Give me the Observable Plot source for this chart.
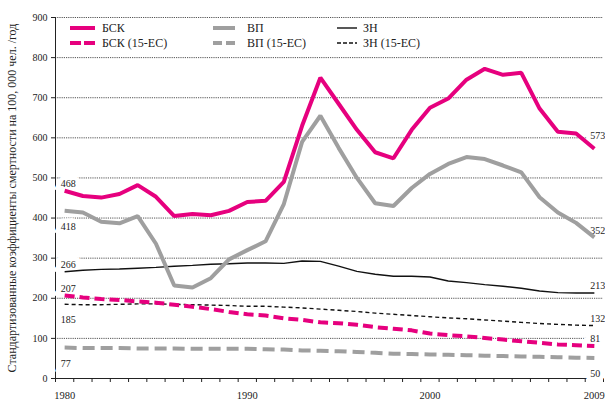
<!DOCTYPE html>
<html><head><meta charset="utf-8">
<script src="https://cdn.jsdelivr.net/npm/d3@7"></script>
<script src="https://cdn.jsdelivr.net/npm/@observablehq/plot@0.6"></script>
<style>
body{margin:0;background:#fff;}
#wrap{position:relative;width:605px;height:403px;font-family:"Liberation Serif","Times New Roman","DejaVu Serif",serif;}
.leg{position:absolute;display:flex;align-items:center;font-size:12px;color:#222;white-space:nowrap;line-height:12px;}
.leg svg{display:block;}
</style></head><body><div id="wrap"></div>
<script>
const years = [1980,1981,1982,1983,1984,1985,1986,1987,1988,1989,1990,1991,1992,1993,1994,1995,1996,1997,1998,1999,2000,2001,2002,2003,2004,2005,2006,2007,2008,2009];
const bsk   = [468,455,451,460,482,453,405,410,407,418,440,443,490,630,750,685,620,564,549,620,675,698,745,772,757,762,673,615,611,573];
const vp    = [418,414,391,387,405,336,232,227,250,297,320,342,435,590,655,575,500,437,430,475,510,535,552,547,531,514,452,414,388,352];
const zn    = [266,270,272,273,275,277,280,282,285,286,288,288,287,293,292,280,267,260,255,255,253,243,239,234,230,225,218,214,213,213];
const bsk15 = [207,202,198,196,192,189,184,179,173,166,160,157,150,146,140,138,134,128,124,120,112,108,105,101,97,93,89,85,83,81];
const vp15  = [77,76,76,76,75,75,75,74,74,74,74,73,72,70,69,68,66,64,62,61,60,59,58,57,56,55,54,53,52,51];
const zn15  = [185,184,184,185,186,186,185,184,183,182,180,180,178,176,173,170,167,163,160,157,154,151,149,146,143,140,137,135,133,132];

const seriesNames = ["БСК","ВП","ЗН","БСК (15-ЕС)","ВП (15-ЕС)","ЗН (15-ЕС)"];
const seriesValues = [bsk, vp, zn, bsk15, vp15, zn15];
const yTicks = [0,100,200,300,400,500,600,700,800,900];
const xLabelYears = [1980,1990,2000,2009];
const yTitle = "Стандартизованные коэффициенты смертности на 100, 000 чел. /год";

// start / end labels
const labelYears = [1980,1980,1980,1980,1980,1980,2009,2009,2009,2009,2009,2009];
const labelTexts = ["468","418","266","207","185","77","573","352","213","132","81","50"];
const labelValues = [468,418,266,207,185,77,573,352,213,132,81,51];
const labelPlace = ["above","below","above","above","below","below","high","above","above","above","above","below"];

const FONT = "'Liberation Serif','Times New Roman','DejaVu Serif',serif";
const MAG = "#e6007e", GRAY = "#9f9f9f", BLK = "#111";
const styles = {
  "БСК": {stroke: MAG, strokeWidth: 4},
  "ВП": {stroke: GRAY, strokeWidth: 4},
  "ЗН": {stroke: BLK, strokeWidth: 1.4},
  "БСК (15-ЕС)": {stroke: MAG, strokeWidth: 4, strokeDasharray: "10,5"},
  "ВП (15-ЕС)": {stroke: GRAY, strokeWidth: 4, strokeDasharray: "12,6"},
  "ЗН (15-ЕС)": {stroke: BLK, strokeWidth: 1.4, strokeDasharray: "4,3"}
};
const legendDash = {"БСК (15-ЕС)": "11,3", "ВП (15-ЕС)": "9,4", "ЗН (15-ЕС)": "4,2"};

const rows = seriesNames.flatMap((s, k) => seriesValues[k].map((v, i) => ({series: s, year: years[i], value: v})));
const labels = labelTexts.map((t, i) => ({year: labelYears[i], value: labelValues[i], text: t, place: labelPlace[i], end: labelYears[i] === years[years.length - 1]}));
const bounds = years.map(y => y - 0.5).concat([years[years.length - 1] + 0.5]);

const labelOpts = (dy) => ({x: "year", y: "value", text: "text", textAnchor: "start", dx: -4, dy, fontSize: 10, fill: "#222", stroke: "white", strokeWidth: 9, strokeLinejoin: "miter", fontFamily: FONT});

const chart = Plot.plot({
  width: 605, height: 403,
  marginLeft: 55, marginRight: 2, marginTop: 17, marginBottom: 25,
  style: {fontFamily: FONT, fontSize: "10px", color: "#222", background: "white"},
  x: {domain: [bounds[0], bounds[bounds.length - 1]]},
  y: {domain: [0, 900]},
  marks: [
    Plot.ruleY(yTicks.filter(d => d > 0), {stroke: "#555", strokeDasharray: "1.2,1", strokeWidth: 1}),
    Plot.ruleY([0], {stroke: "#222", strokeWidth: 1}),
    Plot.ruleX([bounds[0]], {stroke: "#222", strokeWidth: 1}),
    Plot.axisY(yTicks, {tickSize: 4, tickPadding: 4, label: null, fontSize: 10}),
    Plot.axisX(bounds, {tickSize: 4, tickFormat: () => "", label: null}),
    Plot.axisX(xLabelYears, {tickSize: 0, tickPadding: 13, label: null, fontSize: 10.5, tickFormat: d => String(d)}),
    Plot.text([yTitle], {frameAnchor: "left", textAnchor: "middle", text: d => d, rotate: -90, dx: -43, fontSize: 12, fill: "#222", fontFamily: FONT}),
    Plot.text(labels.filter(d => d.place === "above"), labelOpts(-7)),
    Plot.text(labels.filter(d => d.place === "high"), labelOpts(-13)),
    Plot.text(labels.filter(d => d.place === "below"), labelOpts(16)),
    ...["ВП (15-ЕС)","ЗН (15-ЕС)","БСК (15-ЕС)","ЗН","ВП","БСК"].map(s =>
      Plot.line(rows.filter(d => d.series === s), {x: "year", y: "value", ...styles[s], strokeLinejoin: "miter", strokeLinecap: "butt"}))
  ]
});
const wrap = document.getElementById("wrap");
wrap.appendChild(chart);

// legend overlay
const legendCols = [
  {names: ["БСК","БСК (15-ЕС)"], left: 70, sw: 25, gap: 7},
  {names: ["ВП","ВП (15-ЕС)"], left: 213, sw: 22, gap: 12},
  {names: ["ЗН","ЗН (15-ЕС)"], left: 337, sw: 20, gap: 6}
];
const rowTops = [22, 37];
legendCols.forEach(col => {
  col.names.forEach((n, r) => {
    const st = styles[n];
    const div = document.createElement("div");
    div.className = "leg";
    div.style.left = col.left + "px";
    div.style.top = rowTops[r] + "px";
    const dash = legendDash[n] ? `stroke-dasharray="${legendDash[n]}"` : "";
    div.innerHTML = `<svg width="${col.sw}" height="12"><line x1="0" x2="${col.sw}" y1="6" y2="6" stroke="${st.stroke}" stroke-width="${st.strokeWidth}" ${dash}/></svg><span style="margin-left:${col.gap}px">${n}</span>`;
    wrap.appendChild(div);
  });
});
</script></body></html>
